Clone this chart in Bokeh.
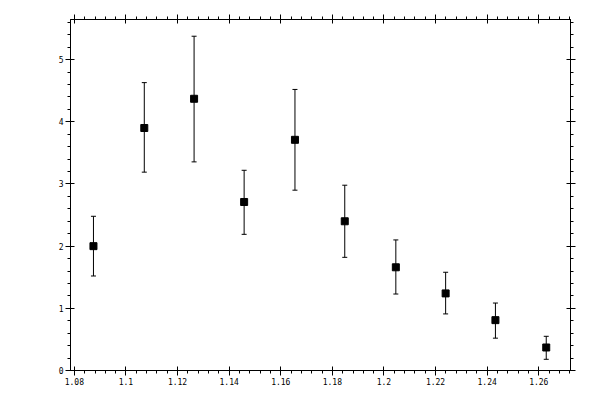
from bokeh.plotting import figure
from bokeh.models import (Range1d, LinearAxis, SingleIntervalTicker,
                          CustomJSTickFormatter, ColumnDataSource, Whisker, TeeHead)
from bokeh.embed import file_html
from bokeh.resources import INLINE

# measured points with their error-bar ends
x_vals = [1.0874, 1.1071, 1.1264, 1.1458, 1.1655, 1.1848, 1.2046, 1.2239, 1.2432, 1.2629]
y_vals = [2.00, 3.90, 4.37, 2.71, 3.71, 2.40, 1.66, 1.24, 0.81, 0.37]
y_lower = [1.52, 3.19, 3.355, 2.19, 2.90, 1.82, 1.23, 0.91, 0.52, 0.18]
y_upper = [2.48, 4.63, 5.376, 3.22, 4.52, 2.98, 2.10, 1.58, 1.085, 0.55]

src = ColumnDataSource(data=dict(x=x_vals, y=y_vals, lo=y_lower, hi=y_upper))

p = figure(
    width=592, height=392,
    x_range=Range1d(1.0785, 1.2723),
    y_range=Range1d(0, 5.645),
    output_backend="svg",
    toolbar_location=None,
    x_axis_type=None, y_axis_type=None,
    min_border_left=70, min_border_right=22,
    min_border_top=19, min_border_bottom=22,
)
p.grid.visible = False
p.outline_line_color = "black"
p.background_fill_color = "white"
p.border_fill_color = "white"

label_fmt = CustomJSTickFormatter(code="return parseFloat(tick.toFixed(4)).toString();")
blank_fmt = CustomJSTickFormatter(code="return '';")


def make_axis(interval, fmt, show_labels):
    ax = LinearAxis(ticker=SingleIntervalTicker(interval=interval, num_minor_ticks=5),
                    formatter=fmt)
    ax.axis_line_color = "black"
    ax.major_tick_line_color = "black"
    ax.minor_tick_line_color = "black"
    ax.major_tick_in = 4
    ax.major_tick_out = 5
    ax.minor_tick_in = 0
    ax.minor_tick_out = 3
    ax.major_label_text_font = "DejaVu Sans Mono"
    ax.major_label_text_font_size = "8px" if show_labels else "0px"
    ax.major_label_text_color = "black"
    ax.major_label_standoff = 2
    return ax


p.add_layout(make_axis(0.02, label_fmt, True), "below")
p.add_layout(make_axis(1, label_fmt, True), "left")
p.add_layout(make_axis(0.02, blank_fmt, False), "above")
p.add_layout(make_axis(1, blank_fmt, False), "right")

# error bars
w = Whisker(source=src, base="x", lower="lo", upper="hi",
            line_color="black", line_width=1,
            upper_head=TeeHead(size=5, line_color="black", line_width=1),
            lower_head=TeeHead(size=5, line_color="black", line_width=1))
p.add_layout(w)

p.scatter("x", "y", source=src, marker="square", size=7,
          fill_color="black", line_color="black")

open("out.html", "w").write(file_html(p, INLINE))
